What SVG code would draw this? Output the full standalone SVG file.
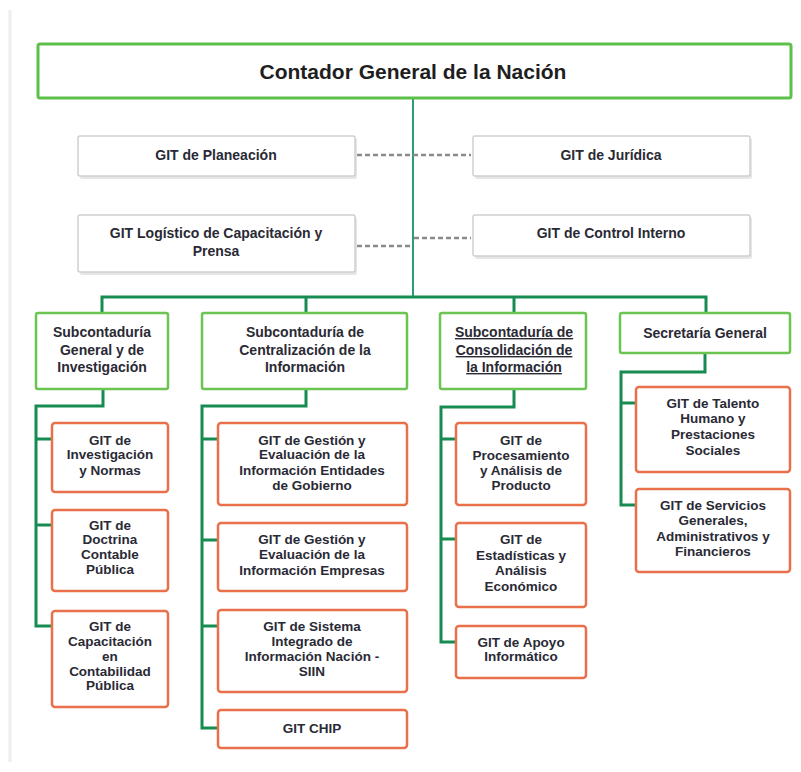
<svg xmlns="http://www.w3.org/2000/svg" width="801" height="772" viewBox="0 0 801 772">
<style>
  text { font-family: "Liberation Sans", Arial, sans-serif; font-weight: bold; fill: #2a2a35; text-anchor: middle; }
  .t14 { font-size: 14px; }
  .t13 { font-size: 13.5px; }
  .title { font-size: 21px; fill: #1e1e1e; }
  .top { fill: #ffffff; stroke: #5cc04a; stroke-width: 3; }
  .staff { fill: #ffffff; stroke: #cfcfcf; stroke-width: 1.5; }
  .shadow { fill: #e6e6e6; }
  .sub { fill: #ffffff; stroke: #6cc452; stroke-width: 2.5; }
  .git { fill: #ffffff; stroke: #e8704a; stroke-width: 2.5; }
  .bus { fill: none; stroke: #178c52; stroke-width: 3; }
  .main { fill: none; stroke: #2a9d72; stroke-width: 2; }
  .dot { fill: none; stroke: #8a8a8a; stroke-width: 2.5; stroke-dasharray: 5 3; }
</style>
<rect x="0" y="0" width="801" height="772" fill="#ffffff"/>
<line x1="10" y1="10" x2="10" y2="762" stroke="#eeeeee" stroke-width="3"/>

<g id="connectors">
  <line class="main" x1="413" y1="99" x2="413" y2="296"/>
  <line class="dot" x1="357" y1="155" x2="471" y2="155"/>
  <line class="dot" x1="357" y1="246" x2="413" y2="246"/>
  <line class="dot" x1="414" y1="238" x2="471" y2="238"/>
  <path class="bus" d="M102,313 V297 H706 V313 M306,297 V313 M514,297 V313"/>
  <path class="bus" d="M103,389 V406 H36 V626 H52 M36,439 H52 M36,525 H52"/>
  <path class="bus" d="M306,389 V406 H202 V728 H218 M202,439 H218 M202,540 H218 M202,626 H218"/>
  <path class="bus" d="M514,389 V407 H441 V642 H456 M441,439 H456 M441,539 H456"/>
  <path class="bus" d="M705,353 V372 H621 V505 H636 M621,403 H636"/>
</g>

<g id="contador">
  <rect class="top" x="38" y="44" width="753" height="54" rx="2"/>
  <text class="title" x="413" y="79">Contador General de la Nación</text>
</g>

<g id="planeacion">
  <rect class="shadow" x="80" y="138" width="277" height="41" rx="2"/>
  <rect class="staff" x="78" y="136" width="277" height="40" rx="2"/>
  <text class="t14" x="216" y="160">GIT de Planeación</text>
</g>
<g id="juridica">
  <rect class="shadow" x="475" y="138" width="277" height="41" rx="2"/>
  <rect class="staff" x="473" y="136" width="277" height="40" rx="2"/>
  <text class="t14" x="611" y="160">GIT de Jurídica</text>
</g>
<g id="logistico">
  <rect class="shadow" x="80" y="217" width="277" height="58" rx="2"/>
  <rect class="staff" x="78" y="215" width="277" height="57" rx="2"/>
  <text class="t14" x="216" y="238">GIT Logístico de Capacitación y</text>
  <text class="t14" x="216" y="256">Prensa</text>
</g>
<g id="control">
  <rect class="shadow" x="475" y="217" width="277" height="42" rx="2"/>
  <rect class="staff" x="473" y="215" width="277" height="41" rx="2"/>
  <text class="t14" x="611" y="238">GIT de Control Interno</text>
</g>

<g id="sub-general">
  <rect class="sub" x="36" y="313" width="132" height="76" rx="2"/>
  <text class="t14" x="102" y="337">Subcontaduría</text>
  <text class="t14" x="102" y="355">General y de</text>
  <text class="t14" x="102" y="372">Investigación</text>
</g>
<g id="sub-centralizacion">
  <rect class="sub" x="202" y="313" width="205" height="76" rx="2"/>
  <text class="t14" x="305" y="337">Subcontaduría de</text>
  <text class="t14" x="305" y="355">Centralización de la</text>
  <text class="t14" x="305" y="372">Información</text>
</g>
<g id="sub-consolidacion">
  <rect class="sub" x="440" y="313" width="146" height="76" rx="2"/>
  <text class="t14" x="514" y="337" text-decoration="underline">Subcontaduría de</text>
  <text class="t14" x="514" y="355" text-decoration="underline">Consolidación de</text>
  <text class="t14" x="514" y="372" text-decoration="underline">la Información</text>
</g>
<g id="secretaria">
  <rect class="sub" x="620" y="313" width="170" height="40" rx="2"/>
  <text class="t14" x="705" y="338">Secretaría General</text>
</g>

<g id="git-investigacion">
  <rect class="git" x="52" y="423" width="116" height="69" rx="3"/>
  <text class="t13" x="110" y="445">GIT de</text>
  <text class="t13" x="110" y="459">Investigación</text>
  <text class="t13" x="110" y="475">y Normas</text>
</g>
<g id="git-doctrina">
  <rect class="git" x="52" y="510" width="116" height="81" rx="3"/>
  <text class="t13" x="110" y="530">GIT de</text>
  <text class="t13" x="110" y="544">Doctrina</text>
  <text class="t13" x="110" y="559">Contable</text>
  <text class="t13" x="110" y="574">Pública</text>
</g>
<g id="git-capacitacion">
  <rect class="git" x="52" y="611" width="116" height="96" rx="3"/>
  <text class="t13" x="110" y="631">GIT de</text>
  <text class="t13" x="110" y="646">Capacitación</text>
  <text class="t13" x="110" y="661">en</text>
  <text class="t13" x="110" y="676">Contabilidad</text>
  <text class="t13" x="110" y="690">Pública</text>
</g>

<g id="git-entidades">
  <rect class="git" x="218" y="423" width="189" height="82" rx="3"/>
  <text class="t13" x="312" y="445">GIT de Gestión y</text>
  <text class="t13" x="312" y="459">Evaluación de la</text>
  <text class="t13" x="312" y="475">Información Entidades</text>
  <text class="t13" x="312" y="490">de Gobierno</text>
</g>
<g id="git-empresas">
  <rect class="git" x="218" y="523" width="189" height="68" rx="3"/>
  <text class="t13" x="312" y="544">GIT de Gestión y</text>
  <text class="t13" x="312" y="559">Evaluación de la</text>
  <text class="t13" x="312" y="575">Información Empresas</text>
</g>
<g id="git-siin">
  <rect class="git" x="218" y="610" width="189" height="82" rx="3"/>
  <text class="t13" x="312" y="631">GIT de Sistema</text>
  <text class="t13" x="312" y="646">Integrado de</text>
  <text class="t13" x="312" y="661">Información Nación -</text>
  <text class="t13" x="312" y="676">SIIN</text>
</g>
<g id="git-chip">
  <rect class="git" x="218" y="710" width="189" height="38" rx="3"/>
  <text class="t13" x="312" y="733">GIT CHIP</text>
</g>

<g id="git-procesamiento">
  <rect class="git" x="456" y="423" width="130" height="82" rx="3"/>
  <text class="t13" x="521" y="445">GIT de</text>
  <text class="t13" x="521" y="460">Procesamiento</text>
  <text class="t13" x="521" y="475">y Análisis de</text>
  <text class="t13" x="521" y="490">Producto</text>
</g>
<g id="git-estadisticas">
  <rect class="git" x="456" y="523" width="130" height="84" rx="3"/>
  <text class="t13" x="521" y="544">GIT de</text>
  <text class="t13" x="521" y="560">Estadísticas y</text>
  <text class="t13" x="521" y="575">Análisis</text>
  <text class="t13" x="521" y="591">Económico</text>
</g>
<g id="git-apoyo">
  <rect class="git" x="456" y="626" width="130" height="52" rx="3"/>
  <text class="t13" x="521" y="647">GIT de Apoyo</text>
  <text class="t13" x="521" y="661">Informático</text>
</g>

<g id="git-talento">
  <rect class="git" x="636" y="387" width="154" height="85" rx="3"/>
  <text class="t13" x="713" y="408">GIT de Talento</text>
  <text class="t13" x="713" y="423">Humano y</text>
  <text class="t13" x="713" y="439">Prestaciones</text>
  <text class="t13" x="713" y="455">Sociales</text>
</g>
<g id="git-servicios">
  <rect class="git" x="636" y="489" width="154" height="83" rx="3"/>
  <text class="t13" x="713" y="510">GIT de Servicios</text>
  <text class="t13" x="713" y="525">Generales,</text>
  <text class="t13" x="713" y="541">Administrativos y</text>
  <text class="t13" x="713" y="556">Financieros</text>
</g>
</svg>
